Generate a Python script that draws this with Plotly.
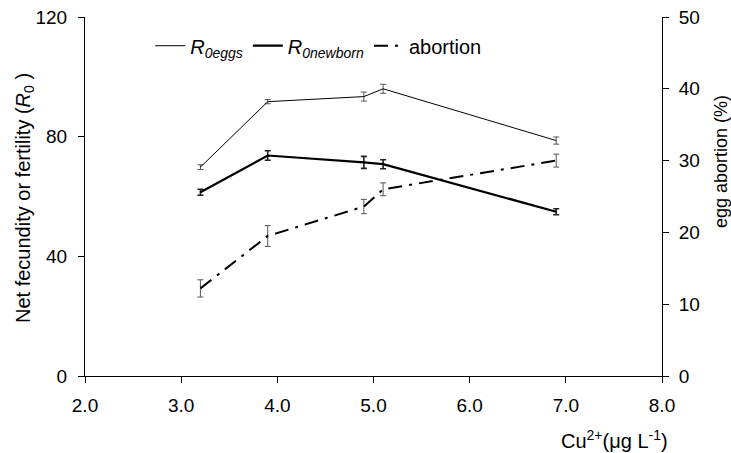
import plotly.graph_objects as go
from plotly.subplots import make_subplots

cu = [3.2, 3.9, 4.9, 5.1, 6.9]
r0_eggs = [69.8, 91.7, 93.4, 96.0, 78.7]
r0_eggs_err = [0.8, 0.7, 1.5, 1.5, 1.2]
r0_newborn = [61.4, 73.7, 71.4, 70.8, 54.9]
r0_newborn_err = [1.0, 1.6, 2.0, 1.5, 1.0]
abortion = [12.2, 19.5, 23.6, 26.0, 30.0]
abortion_err = [1.2, 1.45, 1.0, 0.9, 0.9]

x_ticks = [2.0, 3.0, 4.0, 5.0, 6.0, 7.0, 8.0]
y_left_ticks = [0, 40, 80, 120]
y_right_ticks = [0, 10, 20, 30, 40, 50]

FONT = "Liberation Sans, Arial, sans-serif"

fig = make_subplots(specs=[[{"secondary_y": True}]])

fig.add_trace(go.Scatter(
    x=cu, y=r0_eggs, mode="lines", name="<i>R<sub>0eggs</sub></i>",
    line=dict(color="black", width=1),
    error_y=dict(type="data", array=r0_eggs_err, visible=True, color="#555555", thickness=1, width=3),
), secondary_y=False)

fig.add_trace(go.Scatter(
    x=cu, y=r0_newborn, mode="lines", name="<i>R<sub>0newborn</sub></i>",
    line=dict(color="black", width=2.2),
    error_y=dict(type="data", array=r0_newborn_err, visible=True, color="#222222", thickness=1.6, width=3),
), secondary_y=False)

fig.add_trace(go.Scatter(
    x=cu, y=abortion, mode="lines", name="abortion",
    line=dict(color="black", width=2, dash="14px,7px,3px,7px"),
    error_y=dict(type="data", array=abortion_err, visible=True, color="#555555", thickness=1, width=3),
), secondary_y=True)

fig.update_layout(
    width=731, height=453, autosize=False,
    margin=dict(l=85, r=69, t=17, b=77, autoexpand=False),
    paper_bgcolor="white", plot_bgcolor="white",
    font=dict(family=FONT, size=19, color="black"),
    showlegend=True,
    legend=dict(orientation="h", x=0.113, y=0.92, xanchor="left", yanchor="middle",
                bgcolor="rgba(0,0,0,0)", font=dict(size=20), itemwidth=30,
                tracegroupgap=0),
    annotations=[
        dict(text="Cu<sup>2+</sup>(μg L<sup>-1</sup>)", xref="paper", yref="paper",
             x=(614 - 85) / 577, y=(376 - 439) / 359, xanchor="center", yanchor="middle",
             showarrow=False, font=dict(size=20)),
        dict(text="Net fecundity or fertility (<i>R</i><sub>0</sub> )", xref="paper", yref="paper",
             textangle=-90, x=(25 - 85) / 577, y=(376 - 198) / 359, xanchor="center",
             yanchor="middle", showarrow=False, font=dict(size=20)),
        dict(text="egg abortion (%)", xref="paper", yref="paper", textangle=-90,
             x=(721 - 85) / 577, y=(376 - 162) / 359, xanchor="center", yanchor="middle",
             showarrow=False, font=dict(size=18)),
    ],
)

fig.update_xaxes(
    domain=[0, 1],
    range=[2.0, 8.0], tickvals=x_ticks, ticktext=[f"{v:.1f}" for v in x_ticks],
    showgrid=False, zeroline=False, showline=True, linecolor="black", linewidth=1,
    ticks="outside", ticklen=6, tickcolor="black", tickfont=dict(size=19), automargin=False,
    ticklabelstandoff=6,
)
fig.update_yaxes(
    range=[0, 120], tickvals=y_left_ticks, showgrid=False, zeroline=False,
    showline=True, linecolor="black", linewidth=1, ticks="outside", ticklen=6,
    tickcolor="black", tickfont=dict(size=19), automargin=False, ticklabelstandoff=7,
    secondary_y=False,
)
fig.update_yaxes(
    range=[0, 50], tickvals=y_right_ticks, showgrid=False, zeroline=False,
    showline=True, linecolor="black", linewidth=1, ticks="outside", ticklen=6,
    tickcolor="black", tickfont=dict(size=19), automargin=False, ticklabelstandoff=6,
    secondary_y=True,
)

post = (
    "document.body.style.margin='0';document.body.style.padding='0';"
    "document.body.style.overflow='hidden';"
    "var gd=document.getElementById('{plot_id}');"
    "Plotly.relayout(gd,{width:731,height:453,autosize:false});"
)

fig.write_html("out.html", config={"responsive": False, "displayModeBar": False}, post_script=post)
